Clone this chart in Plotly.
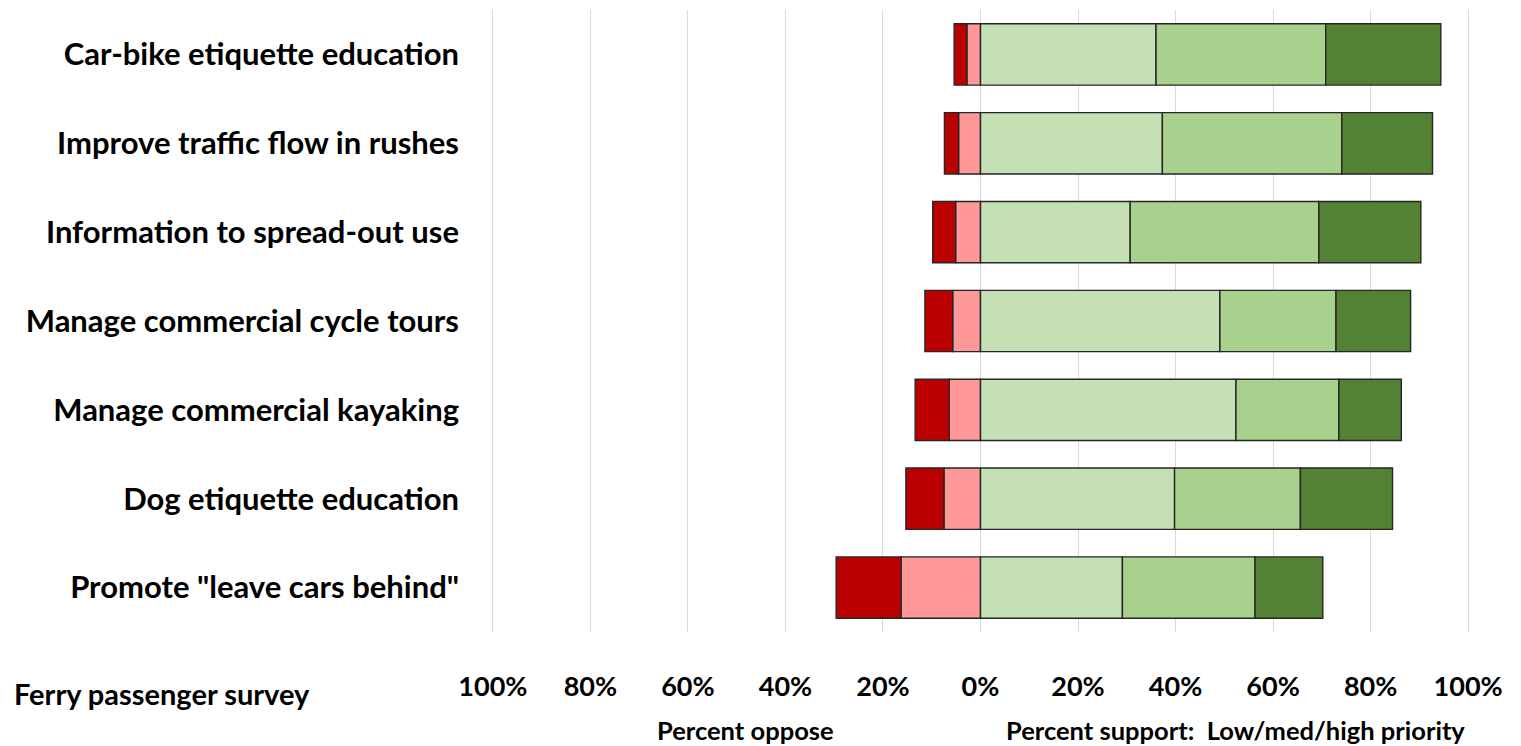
import plotly.graph_objects as go

categories = [
    "Car-bike etiquette education",
    "Improve traffic flow in rushes",
    "Information to spread-out use",
    "Manage commercial cycle tours",
    "Manage commercial kayaking",
    "Dog etiquette education",
    "Promote \"leave cars behind\"",
]
oppose_strong = [2.6, 2.9, 4.7, 5.7, 7.0, 7.8, 13.3]
oppose_mild = [2.8, 4.5, 5.1, 5.7, 6.4, 7.5, 16.3]
support_low = [36.0, 37.3, 30.7, 49.1, 52.4, 39.8, 29.1]
support_med = [34.8, 36.8, 38.7, 23.8, 21.1, 25.8, 27.2]
support_high = [23.6, 18.6, 20.9, 15.3, 12.8, 18.9, 13.9]

tick_vals = [-100, -80, -60, -40, -20, 0, 20, 40, 60, 80, 100]
tick_text = ["100%", "80%", "60%", "40%", "20%", "0%", "20%", "40%", "60%", "80%", "100%"]

FONT = "Lato"
line = dict(color="#262626", width=1.4)

fig = go.Figure()
series = [
    ("Oppose", [-v for v in oppose_mild], "#FF9999"),
    ("Strongly oppose", [-v for v in oppose_strong], "#BA0000"),
    ("Low priority", support_low, "#C5E0B4"),
    ("Medium priority", support_med, "#A9D18E"),
    ("High priority", support_high, "#548235"),
]
for name, vals, color in series:
    fig.add_trace(go.Bar(
        y=categories, x=vals, name=name, orientation="h",
        marker=dict(color=color, line=line), width=0.69,
    ))

W, H = 1521, 746
ML, MR, MT, MB = 488, 48, 10, 114
plot_w = W - ML - MR
plot_h = H - MT - MB
bottom_px = H - MB

fig.update_layout(
    barmode="relative",
    width=W, height=H,
    margin=dict(l=ML, r=MR, t=MT, b=MB),
    plot_bgcolor="white", paper_bgcolor="white",
    showlegend=False,
    font=dict(family=FONT, color="black"),
    xaxis=dict(
        range=[-101, 101], tickvals=tick_vals, ticktext=tick_text,
        showgrid=True, gridcolor="#D9D9D9", gridwidth=1,
        zeroline=False, showline=False,
        tickfont=dict(family=FONT, size=27, color="black", weight="bold"),
        ticklabelstandoff=36,
    ),
    yaxis=dict(
        autorange="reversed", showgrid=False, zeroline=False, showline=False,
        tickfont=dict(family=FONT, size=31, color="black", weight="bold"),
        ticklabelstandoff=28,
    ),
    annotations=[
        dict(text="Ferry passenger survey", xref="paper", yref="paper",
             x=(12 - ML) / plot_w, y=-(693 - bottom_px) / plot_h,
             xanchor="left", yanchor="middle",
             showarrow=False, font=dict(family=FONT, size=29, weight="bold")),
        dict(text="Percent oppose", xref="x", yref="paper", x=-48.2,
             y=-(730 - bottom_px) / plot_h,
             xanchor="center", yanchor="middle", showarrow=False,
             font=dict(family=FONT, size=25.5, weight="bold")),
        dict(text="Percent support:  Low/med/high priority", xref="x", yref="paper", x=52.2,
             y=-(730 - bottom_px) / plot_h,
             xanchor="center", yanchor="middle", showarrow=False,
             font=dict(family=FONT, size=25.5, weight="bold")),
    ],
)

fig.write_html("out.html", config={"displayModeBar": False},
               post_script="document.body.style.margin='0';")
